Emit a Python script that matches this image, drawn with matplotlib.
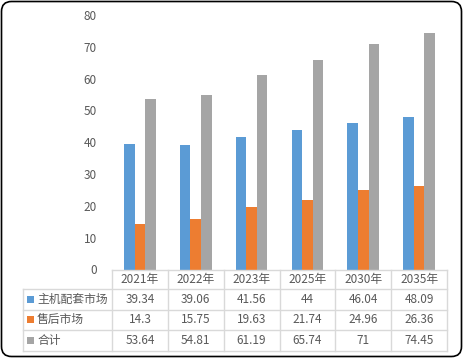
import matplotlib
matplotlib.use("Agg")
import matplotlib.pyplot as plt
from matplotlib.patches import FancyBboxPatch, Rectangle
from matplotlib.lines import Line2D

plt.rcParams['font.family'] = ['Noto Sans CJK SC', 'DejaVu Sans']

# data
years = ["2021年", "2022年", "2023年", "2025年", "2030年", "2035年"]
series_names = ["主机配套市场", "售后市场", "合计"]
oem = [39.34, 39.06, 41.56, 44, 46.04, 48.09]
aftermarket = [14.3, 15.75, 19.63, 21.74, 24.96, 26.36]
total = [53.64, 54.81, 61.19, 65.74, 71, 74.45]
yticks = [0, 10, 20, 30, 40, 50, 60, 70, 80]

colors = ["#5B9BD5", "#ED7D31", "#A5A5A5"]
text_c = "#595959"
grid_c = "#D9D9D9"

W, H = 463, 358
fig = plt.figure(figsize=(W / 100, H / 100), dpi=100)


def fx(x):
    return x / W


def fy(y):
    return 1 - y / H


# plot area in pixels
x0, x1 = 112, 447
y_top, y_bot = 15, 269.5
ax = fig.add_axes([fx(x0), fy(y_bot), fx(x1) - fx(x0), fy(y_top) - fy(y_bot)])

n = len(years)
xs = list(range(n))
w = 0.19
for i, vals in enumerate([oem, aftermarket, total]):
    ax.bar([x + (i - 1) * w for x in xs], vals, width=w, color=colors[i], zorder=2)

ax.set_xlim(-0.5, n - 0.5)
ax.set_ylim(0, 80)
ax.set_yticks(yticks)
ax.set_yticklabels([str(t) for t in yticks], color=text_c, fontsize=8.5)
ax.tick_params(axis='y', length=0, pad=11)
ax.set_xticks([])
for s in ax.spines.values():
    s.set_visible(False)

# data table under the axis
col_w = (x1 - x0) / n
row_y = [269.5, 289, 309.5, 330, 351]
lab_x = 23


def hline(xa, xb, y):
    fig.add_artist(Line2D([fx(xa), fx(xb)], [fy(y), fy(y)], color=grid_c, lw=1))


def vline(x, ya, yb):
    fig.add_artist(Line2D([fx(x), fx(x)], [fy(ya), fy(yb)], color=grid_c, lw=1))


hline(x0, x1, row_y[0])
for y in row_y[1:]:
    hline(lab_x, x1, y)
vline(lab_x, row_y[1], row_y[-1])
for j in range(n + 1):
    vline(x0 + j * col_w, row_y[0], row_y[-1])

for j, yr in enumerate(years):
    cy = (row_y[0] + row_y[1]) / 2
    fig.text(fx(x0 + (j + 0.5) * col_w), fy(cy), yr, ha='center', va='center',
             color=text_c, fontsize=8.5)

rows = [oem, aftermarket, total]
for i, vals in enumerate(rows):
    cy = (row_y[i + 1] + row_y[i + 2]) / 2
    fig.add_artist(Rectangle((fx(26.5), fy(cy + 3.5)), fx(7), 7 / H,
                             color=colors[i], lw=0))
    fig.text(fx(37), fy(cy), series_names[i], ha='left', va='center',
             color=text_c, fontsize=8.5)
    for j, v in enumerate(vals):
        fig.text(fx(x0 + (j + 0.5) * col_w), fy(cy), f"{v:g}", ha='center',
                 va='center', color=text_c, fontsize=8.5)

# rounded outer border
border = FancyBboxPatch((0.015, 0.015), (W - 3) / 100, (H - 3) / 100,
                        boxstyle="round,pad=0,rounding_size=0.1",
                        transform=fig.dpi_scale_trans, fill=False,
                        edgecolor="#000000", lw=1.2)
fig.add_artist(border)

fig.savefig("out.png", dpi=100)
